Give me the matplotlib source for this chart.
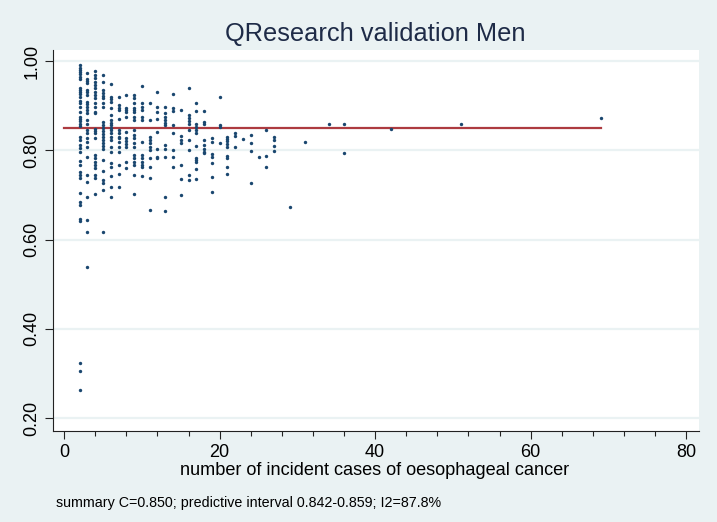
import matplotlib
matplotlib.use("Agg")
import matplotlib.pyplot as plt
import numpy as np

# number of incident cases per practice group and the C statistic
case_counts = [2, 3, 4, 5, 6, 7, 8, 9, 10, 11, 12, 13, 14, 15, 16, 17, 18, 19,
               20, 21, 22, 23, 24, 25, 26, 27, 29, 31, 34, 36, 42, 51, 69]
c_by_count = [
    [0.990, 0.985, 0.980, 0.975, 0.970, 0.965, 0.960, 0.940, 0.935, 0.930, 0.925,
     0.920, 0.910, 0.905, 0.898, 0.886, 0.875, 0.870, 0.865, 0.860, 0.855, 0.830,
     0.823, 0.812, 0.805, 0.797, 0.775, 0.767, 0.752, 0.745, 0.737, 0.704, 0.684,
     0.678, 0.646, 0.642, 0.324, 0.306, 0.263],
    [0.974, 0.960, 0.955, 0.950, 0.935, 0.930, 0.924, 0.909, 0.903, 0.897, 0.890,
     0.883, 0.867, 0.860, 0.845, 0.838, 0.827, 0.819, 0.808, 0.786, 0.745, 0.730,
     0.696, 0.644, 0.618, 0.539],
    [0.978, 0.969, 0.961, 0.954, 0.947, 0.940, 0.931, 0.924, 0.916, 0.905, 0.898,
     0.886, 0.883, 0.848, 0.843, 0.838, 0.827, 0.789, 0.782, 0.774, 0.767, 0.760,
     0.745, 0.737, 0.702],
    [0.969, 0.952, 0.934, 0.928, 0.922, 0.916, 0.905, 0.898, 0.864, 0.857, 0.849,
     0.843, 0.836, 0.830, 0.823, 0.816, 0.810, 0.804, 0.778, 0.754, 0.733, 0.726,
     0.712, 0.618],
    [0.948, 0.920, 0.914, 0.909, 0.894, 0.879, 0.868, 0.862, 0.856, 0.849, 0.845,
     0.838, 0.830, 0.823, 0.808, 0.797, 0.771, 0.763, 0.742, 0.718, 0.696],
    [0.920, 0.901, 0.895, 0.890, 0.869, 0.845, 0.838, 0.830, 0.827, 0.819, 0.808,
     0.797, 0.767, 0.746, 0.718],
    [0.924, 0.894, 0.890, 0.886, 0.875, 0.842, 0.827, 0.820, 0.814, 0.808, 0.774,
     0.760],
    [0.924, 0.916, 0.905, 0.894, 0.890, 0.886, 0.875, 0.868, 0.845, 0.834, 0.827,
     0.816, 0.808, 0.789, 0.782, 0.774, 0.767, 0.745, 0.701],
    [0.944, 0.905, 0.898, 0.890, 0.875, 0.868, 0.819, 0.789, 0.782, 0.774, 0.767,
     0.763, 0.742],
    [0.905, 0.868, 0.830, 0.823, 0.816, 0.808, 0.801, 0.782, 0.763, 0.737, 0.666],
    [0.931, 0.898, 0.886, 0.871, 0.842, 0.804, 0.786, 0.782],
    [0.898, 0.883, 0.875, 0.868, 0.862, 0.857, 0.812, 0.804, 0.786, 0.696, 0.665],
    [0.926, 0.895, 0.888, 0.857, 0.838, 0.800, 0.784, 0.763],
    [0.890, 0.833, 0.823, 0.816, 0.766, 0.735, 0.700],
    [0.939, 0.879, 0.873, 0.866, 0.860, 0.845, 0.823, 0.801, 0.745, 0.733],
    [0.905, 0.888, 0.860, 0.853, 0.845, 0.838, 0.810, 0.782, 0.778, 0.774, 0.757,
     0.736],
    [0.888, 0.864, 0.860, 0.823, 0.812, 0.804, 0.797, 0.793],
    [0.828, 0.819, 0.791, 0.784, 0.771, 0.740, 0.706],
    [0.920, 0.857, 0.853, 0.817],
    [0.830, 0.826, 0.820, 0.814, 0.808, 0.787, 0.782, 0.763, 0.746],
    [0.838, 0.832, 0.808],
    [0.825],
    [0.834, 0.817, 0.799, 0.726],
    [0.784],
    [0.845, 0.787, 0.763],
    [0.829, 0.823, 0.810, 0.798],
    [0.672],
    [0.819],
    [0.858],
    [0.858, 0.793],
    [0.848],
    [0.860],
    [0.873],
]

summary_c = 0.850
line_x = [0, 69]
x_ticks = [0, 20, 40, 60, 80]
y_ticks = [0.20, 0.40, 0.60, 0.80, 1.00]

title = "QResearch validation Men"
x_label = "number of incident cases of oesophageal cancer"
note = "summary C=0.850; predictive interval 0.842-0.859; I2=87.8%"

bg = "#eaf2f3"
navy = "#1a476f"
maroon = "#ad3b40"

plt.rcParams["font.family"] = ["Liberation Sans", "DejaVu Sans"]

x = np.concatenate([[n] * len(v) for n, v in zip(case_counts, c_by_count)])
y = np.concatenate(c_by_count)

fig = plt.figure(figsize=(7.17, 5.22), dpi=100, facecolor=bg)
ax = fig.add_axes([0.0734, 0.1743, 0.9011, 0.7299])
ax.set_facecolor("white")

for yt in y_ticks:
    ax.axhline(yt, color=bg, lw=1.6, zorder=0)

ax.scatter(x, y, s=6, color=navy, linewidths=0, zorder=3)
ax.plot(line_x, [summary_c, summary_c], color=maroon, lw=1.6, zorder=2)

ax.set_xlim(-1.47, 81.6)
ax.set_ylim(0.1713, 1.0246)
ax.set_xticks(x_ticks)
ax.set_xticks(np.arange(0, 81, 4), minor=True)
ax.set_yticks(y_ticks)
ax.set_yticklabels([f"{v:.2f}" for v in y_ticks], rotation=90, va="center")
ax.tick_params(axis="both", which="major", length=6, width=0.8, labelsize=13,
               color="#222222", pad=3)
ax.tick_params(axis="x", which="minor", length=3.5, width=0.8, color="#222222")

for side in ("top", "right"):
    ax.spines[side].set_visible(False)
for side in ("left", "bottom"):
    ax.spines[side].set_color("#222222")
    ax.spines[side].set_linewidth(0.8)

fig.text(0.524, 0.935, title, ha="center", va="center", fontsize=18.3,
         color="#1e2b47")
fig.text(0.523, 0.0985, x_label, ha="center", va="center", fontsize=13.1)
fig.text(0.078, 0.037, note, ha="left", va="center", fontsize=10.3)

fig.savefig("out.png", dpi=100, facecolor=bg)
